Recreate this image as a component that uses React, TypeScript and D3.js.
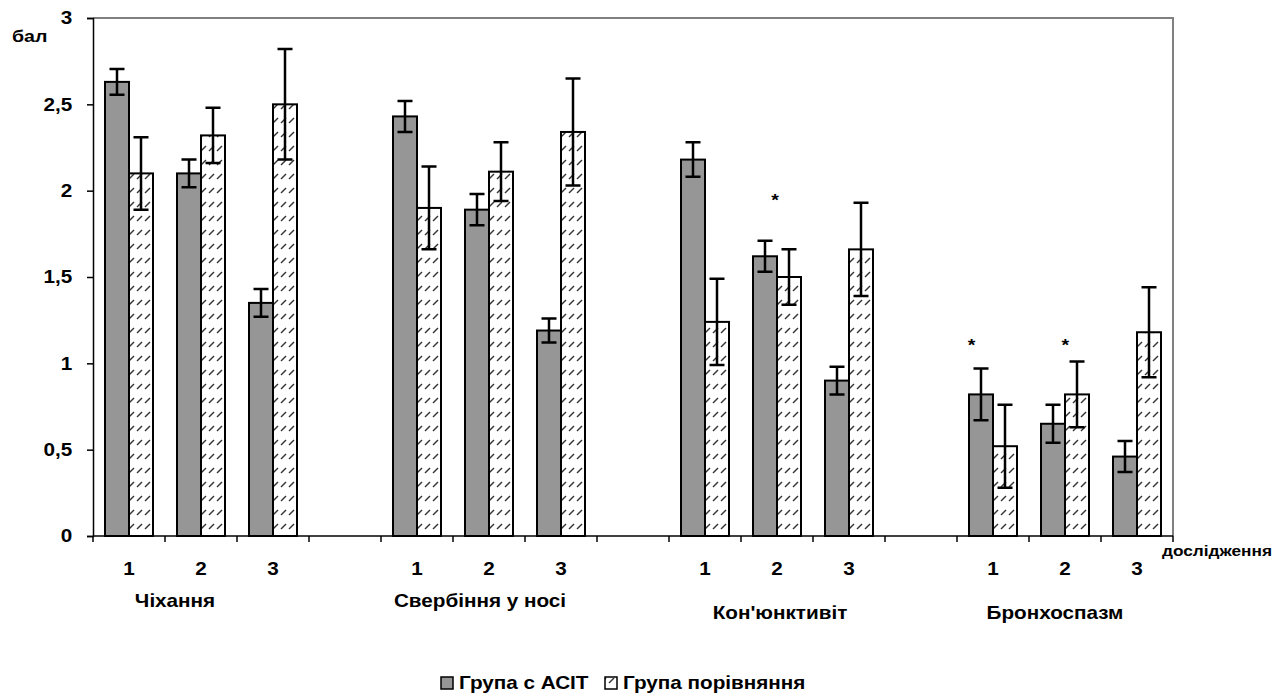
import React, { useEffect, useRef } from 'react';
import * as d3 from 'd3';

// symptom groups and visits (дослідження 1..3)
const groups = ['Чіхання', 'Свербіння у носі', "Кон'юнктивіт", 'Бронхоспазм'];
const visits = ['1', '2', '3'];

// Група с АСІТ
const asitMean = [2.63, 2.10, 1.35, 2.43, 1.89, 1.19, 2.18, 1.62, 0.90, 0.82, 0.65, 0.46];
const asitErr = [0.075, 0.08, 0.08, 0.09, 0.09, 0.07, 0.10, 0.09, 0.08, 0.15, 0.11, 0.09];

// Група порівняння
const compMean = [2.10, 2.32, 2.50, 1.90, 2.11, 2.34, 1.24, 1.50, 1.66, 0.52, 0.82, 1.18];
const compErr = [0.21, 0.16, 0.32, 0.24, 0.17, 0.31, 0.25, 0.16, 0.27, 0.24, 0.19, 0.26];

const yTicks = [0, 0.5, 1, 1.5, 2, 2.5, 3];
const seriesNames = ['Група с АСІТ', 'Група порівняння'];

// significance marks: group, visit, level on the y scale
const starGroup = [2, 3, 3];
const starVisit = [1, 0, 1];
const starLevel = [1.97, 1.13, 1.13];

// hand placement tweaks for loose text boxes
const starShift = [0.14, -0.13, 0.17];
const groupLabelShift = [-26, -9, 3, -10];
const groupLabelRow = [0, 0, 1, 1];

const FONT = "'Liberation Sans', Arial, sans-serif";
const SX = 1.15;

function App() {
  const ref = useRef<SVGSVGElement>(null);

  useEffect(() => {
    const svg = d3.select(ref.current);
    svg.selectAll('*').remove();

    const left = 93, right = 1173, top = 18, bottom = 536;
    const nSlots = groups.length * (visits.length + 1) - 1;
    const slotOf = (i: number) => Math.floor(i / visits.length) * (visits.length + 1) + (i % visits.length);

    const x = d3.scaleBand<number>().domain(d3.range(nSlots)).range([left, right]);
    const inner = d3.scaleBand<string>().domain(['asit', 'comp']).range([0, x.bandwidth()]).paddingOuter(0.5);
    const y = d3.scaleLinear().domain([0, 3]).range([bottom, top]);

    const defs = svg.append('defs');
    const pat = defs.append('pattern')
      .attr('id', 'hatch')
      .attr('patternUnits', 'userSpaceOnUse')
      .attr('width', 8)
      .attr('height', 14);
    pat.append('rect').attr('width', 8).attr('height', 14).attr('fill', '#fff');
    pat.append('path').attr('d', 'M1,11 L6,6').attr('stroke', '#333').attr('stroke-width', 1.4);

    const text = (px: number, py: number, str: string, size: number, anchor = 'middle') =>
      svg.append('text')
        .attr('transform', `translate(${px},${py}) scale(${SX},1)`)
        .attr('text-anchor', anchor)
        .attr('font-family', FONT)
        .attr('font-weight', 'bold')
        .attr('font-size', size)
        .attr('fill', '#000')
        .text(str);

    // plot frame (top/right)
    svg.append('path')
      .attr('d', `M${left},${top}H${right}V${bottom}`)
      .attr('fill', 'none')
      .attr('stroke', '#808080')
      .attr('stroke-width', 2);

    // bars
    const items = d3.range(asitMean.length);
    const series = [
      { key: 'asit', mean: asitMean, err: asitErr, fill: '#969696' },
      { key: 'comp', mean: compMean, err: compErr, fill: 'url(#hatch)' },
    ];
    series.forEach(s => {
      const g = svg.append('g');
      g.selectAll('rect')
        .data(items)
        .enter()
        .append('rect')
        .attr('x', i => x(slotOf(i))! + inner(s.key)!)
        .attr('y', i => y(s.mean[i]))
        .attr('width', inner.bandwidth())
        .attr('height', i => y(0) - y(s.mean[i]))
        .attr('fill', s.fill)
        .attr('stroke', '#000')
        .attr('stroke-width', 2);
    });

    // error bars
    const cap = 7.5;
    series.forEach(s => {
      const g = svg.append('g').attr('stroke', '#000').attr('stroke-width', 2.5).attr('fill', 'none');
      g.selectAll('path')
        .data(items)
        .enter()
        .append('path')
        .attr('d', i => {
          const cx = x(slotOf(i))! + inner(s.key)! + inner.bandwidth() / 2;
          const hi = y(s.mean[i] + s.err[i]);
          const lo = y(s.mean[i] - s.err[i]);
          return `M${cx},${hi}V${lo}M${cx - cap},${hi}H${cx + cap}M${cx - cap},${lo}H${cx + cap}`;
        });
    });

    // y axis
    const yAxis = svg.append('g')
      .attr('transform', `translate(${left},0)`)
      .call(d3.axisLeft(y).tickValues(yTicks).tickSize(6).tickPadding(12)
        .tickFormat(d => String(d).replace('.', ',')));
    yAxis.select('.domain').attr('stroke', '#000').attr('stroke-width', 1.5);
    yAxis.selectAll('.tick line').attr('stroke', '#000').attr('stroke-width', 1.5);
    yAxis.selectAll('.tick text')
      .attr('font-family', FONT)
      .attr('font-weight', 'bold')
      .attr('font-size', 18)
      .attr('fill', '#000')
      .attr('transform', `scale(${SX},1)`);

    // x axis: labels at slot centres, ticks at slot boundaries
    const xAxis = svg.append('g')
      .attr('transform', `translate(0,${bottom})`)
      .call(d3.axisBottom(x).tickSize(0).tickPadding(26)
        .tickFormat(d => {
          const k = d % (visits.length + 1);
          return k < visits.length ? visits[k] : '';
        }));
    xAxis.select('.domain').remove();
    xAxis.selectAll('.tick text')
      .attr('font-family', FONT)
      .attr('font-weight', 'bold')
      .attr('font-size', 18)
      .attr('fill', '#000')
      .attr('transform', `scale(${SX},1)`);
    svg.append('line')
      .attr('x1', left).attr('x2', right)
      .attr('y1', bottom).attr('y2', bottom)
      .attr('stroke', '#000').attr('stroke-width', 1.5);
    svg.append('g').selectAll('line')
      .data(d3.range(nSlots + 1))
      .enter()
      .append('line')
      .attr('x1', i => left + i * x.step())
      .attr('x2', i => left + i * x.step())
      .attr('y1', bottom)
      .attr('y2', bottom + 6)
      .attr('stroke', '#000')
      .attr('stroke-width', 1.5);

    // group names
    groups.forEach((name, gi) => {
      const mid = x(gi * (visits.length + 1) + 1)! + x.bandwidth() / 2;
      text(mid + groupLabelShift[gi], 607 + groupLabelRow[gi] * 12, name, 18);
    });

    // asterisks
    starGroup.forEach((gi, k) => {
      const sx = x(gi * (visits.length + 1) + starVisit[k])! + inner('asit')! + inner.bandwidth() / 2
        + starShift[k] * x.step();
      text(sx, y(starLevel[k]) + 10, '*', 17);
    });

    // axis titles
    text(12, 42, 'бал', 17, 'start');
    text(1162, 556, 'дослідження', 15, 'start');

    // legend
    const lg = svg.append('g');
    const legendX = [441, 605];
    seriesNames.forEach((name, k) => {
      lg.append('rect')
        .attr('x', legendX[k]).attr('y', 677)
        .attr('width', 12).attr('height', 12)
        .attr('fill', series[k].fill)
        .attr('stroke', '#000').attr('stroke-width', 1.5);
      text(legendX[k] + 18, 689, name, 18, 'start');
    });
  }, []);

  return <svg ref={ref} width={1279} height={695} style={{ position: 'absolute', left: 0, top: 0 }} />;
}

export default App;
